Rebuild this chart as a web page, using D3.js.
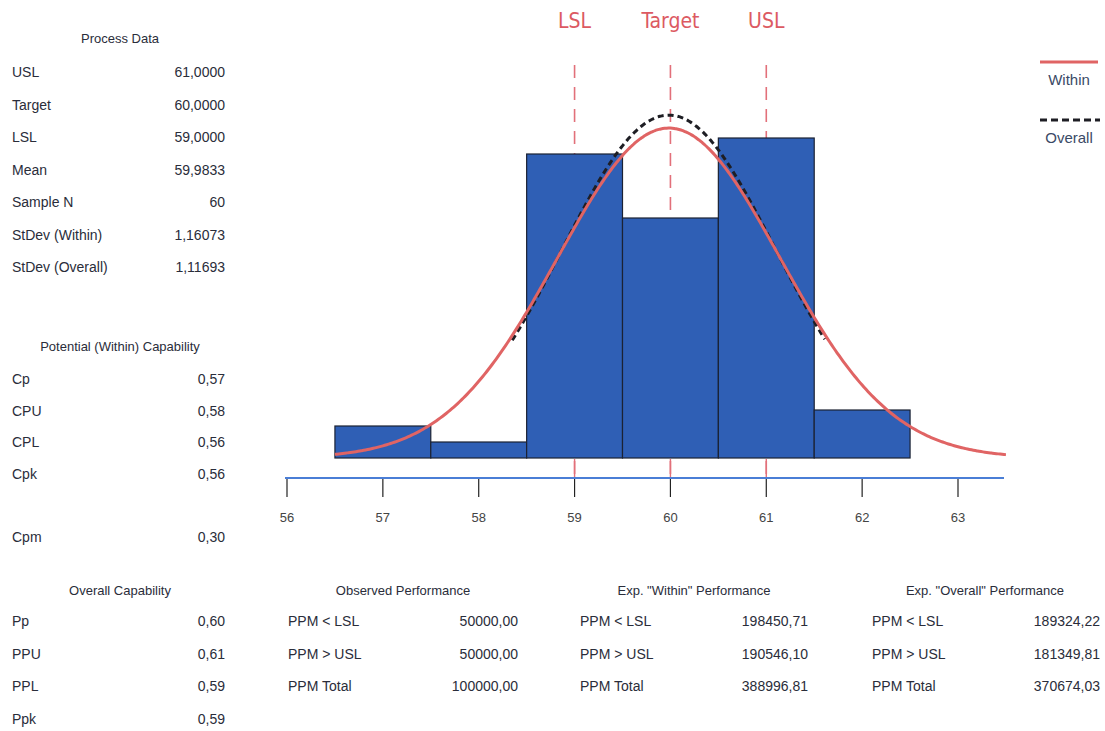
<html>
<head>
<title>Process Capability</title>
<script src="https://cdn.jsdelivr.net/npm/d3@7"></script>
<style>
  body { margin: 0; background: #fff; }
  text { font-family: "Liberation Sans Narrow", "Arial Narrow", "Liberation Sans", sans-serif; fill: #2a2d3a; }
  .spec-label { fill: #dc5a62; font-size: 21px; font-family: "DejaVu Sans Condensed", "Liberation Sans", sans-serif; }
  .tick-label { fill: #444; font-size: 13px; }
</style>
</head>
<body>
<svg id="chart" width="1105" height="731"></svg>
<script>
// ---- data ----
var binStarts = [56.5, 57.5, 58.5, 59.5, 60.5, 61.5];
var binCounts = [2, 1, 19, 15, 20, 3];
var xTicks = [56, 57, 58, 59, 60, 61, 62, 63];

var specNames = ["LSL", "Target", "USL"];
var specValues = [59, 60, 61];

var mean = 59.9833;
var sampleN = 60;
var sdWithin = 1.16073;
var sdOverall = 1.11693;
var withinRange = [56.5, 63.5];
var overallRange = [58.35, 61.62];

var processLabels = ["USL", "Target", "LSL", "Mean", "Sample N", "StDev (Within)", "StDev (Overall)"];
var processValues = ["61,0000", "60,0000", "59,0000", "59,9833", "60", "1,16073", "1,11693"];

var potentialLabels = ["Cp", "CPU", "CPL", "Cpk", "", "Cpm"];
var potentialValues = ["0,57", "0,58", "0,56", "0,56", "", "0,30"];

var overallLabels = ["Pp", "PPU", "PPL", "Ppk"];
var overallValues = ["0,60", "0,61", "0,59", "0,59"];

var ppmLabels = ["PPM < LSL", "PPM > USL", "PPM Total"];
var observedValues = ["50000,00", "50000,00", "100000,00"];
var expWithinValues = ["198450,71", "190546,10", "388996,81"];
var expOverallValues = ["189324,22", "181349,81", "370674,03"];

var svg = d3.select("#chart");

var x = d3.scaleLinear().domain([56, 63]).range([287, 958]);
var y = d3.scaleLinear().domain([0, 20]).range([458, 138]);

// spec lines (behind bars)
svg.selectAll(".spec").data(specValues).enter()
  .append("line")
  .attr("x1", function (d) { return x(d); })
  .attr("x2", function (d) { return x(d); })
  .attr("y1", 65).attr("y2", 478)
  .attr("stroke", "#e2707a")
  .attr("stroke-width", 1.6)
  .attr("stroke-dasharray", "13,9");

svg.selectAll(".spec-label").data(specNames).enter()
  .append("text")
  .attr("class", "spec-label")
  .attr("x", function (d, i) { return x(specValues[i]); })
  .attr("y", 28)
  .attr("text-anchor", "middle")
  .text(function (d) { return d; });

// histogram bars
svg.selectAll(".bar").data(binCounts).enter()
  .append("rect")
  .attr("x", function (d, i) { return x(binStarts[i]); })
  .attr("y", function (d) { return y(d); })
  .attr("width", function (d, i) { return x(binStarts[i] + 1) - x(binStarts[i]); })
  .attr("height", function (d) { return y(0) - y(d); })
  .attr("fill", "#2f5fb5")
  .attr("stroke", "#1b2233")
  .attr("stroke-width", 1.2);

// spec ticks visible under bars
svg.selectAll(".spec-tick").data(specValues).enter()
  .append("line")
  .attr("x1", function (d) { return x(d); })
  .attr("x2", function (d) { return x(d); })
  .attr("y1", 459).attr("y2", 478)
  .attr("stroke", "#e2707a")
  .attr("stroke-width", 1.4);

// fitted normal curves (expected counts per unit bin)
function normalCurve(sd, range) {
  var pts = d3.range(range[0], range[1] + 0.001, 0.02);
  return pts.map(function (v) {
    var z = (v - mean) / sd;
    return [v, sampleN * Math.exp(-0.5 * z * z) / (sd * Math.sqrt(2 * Math.PI))];
  });
}
var line = d3.line()
  .x(function (d) { return x(d[0]); })
  .y(function (d) { return y(d[1]); })
  .curve(d3.curveBasis);

svg.append("path")
  .datum(normalCurve(sdOverall, overallRange))
  .attr("d", line)
  .attr("fill", "none")
  .attr("stroke", "#1e1e24")
  .attr("stroke-width", 3)
  .attr("stroke-dasharray", "6,4");

svg.append("path")
  .datum(normalCurve(sdWithin, withinRange))
  .attr("d", line)
  .attr("fill", "none")
  .attr("stroke", "#e06464")
  .attr("stroke-width", 3);

// x axis
svg.append("line")
  .attr("x1", 285).attr("x2", 1004)
  .attr("y1", 478).attr("y2", 478)
  .attr("stroke", "#4a7ed6").attr("stroke-width", 2);

var axis = svg.append("g");
axis.selectAll(".t").data(xTicks).enter()
  .append("line")
  .attr("x1", function (d) { return x(d); })
  .attr("x2", function (d) { return x(d); })
  .attr("y1", 479).attr("y2", 497)
  .attr("stroke", "#222").attr("stroke-width", 1.2);
axis.selectAll(".tick-label").data(xTicks).enter()
  .append("text")
  .attr("class", "tick-label")
  .attr("x", function (d) { return x(d); })
  .attr("y", 522)
  .attr("text-anchor", "middle")
  .text(function (d) { return d; });

// legend
svg.append("line").attr("x1", 1040).attr("x2", 1098).attr("y1", 62).attr("y2", 62)
  .attr("stroke", "#e06464").attr("stroke-width", 3);
svg.append("text").attr("x", 1069).attr("y", 85).attr("text-anchor", "middle")
  .style("font-size", "15px").style("fill", "#3a4a66").text("Within");
svg.append("line").attr("x1", 1040).attr("x2", 1100).attr("y1", 120).attr("y2", 120)
  .attr("stroke", "#1e1e24").attr("stroke-width", 3).attr("stroke-dasharray", "7,4");
svg.append("text").attr("x", 1069).attr("y", 143).attr("text-anchor", "middle")
  .style("font-size", "15px").style("fill", "#3a4a66").text("Overall");

// text tables
function table(title, cx, titleY, labels, values, lx, rx, rowY, step) {
  svg.append("text").attr("x", cx).attr("y", titleY).attr("text-anchor", "middle")
    .style("font-size", "13px").text(title);
  labels.forEach(function (l, i) {
    if (!l) return;
    var yy = rowY + i * step;
    svg.append("text").attr("x", lx).attr("y", yy).style("font-size", "14px").text(l);
    svg.append("text").attr("x", rx).attr("y", yy).attr("text-anchor", "end")
      .style("font-size", "14px").text(values[i]);
  });
}

table("Process Data", 120, 43, processLabels, processValues, 12, 225, 77, 32.5);
table("Potential (Within) Capability", 120, 351, potentialLabels, potentialValues, 12, 225, 384, 31.6);
table("Overall Capability", 120, 595, overallLabels, overallValues, 12, 225, 626, 32.5);
table("Observed Performance", 403, 595, ppmLabels, observedValues, 288, 518, 626, 32.5);
table("Exp. \"Within\" Performance", 694, 595, ppmLabels, expWithinValues, 580, 808, 626, 32.5);
table("Exp. \"Overall\" Performance", 985, 595, ppmLabels, expOverallValues, 872, 1100, 626, 32.5);
</script>
</body>
</html>
